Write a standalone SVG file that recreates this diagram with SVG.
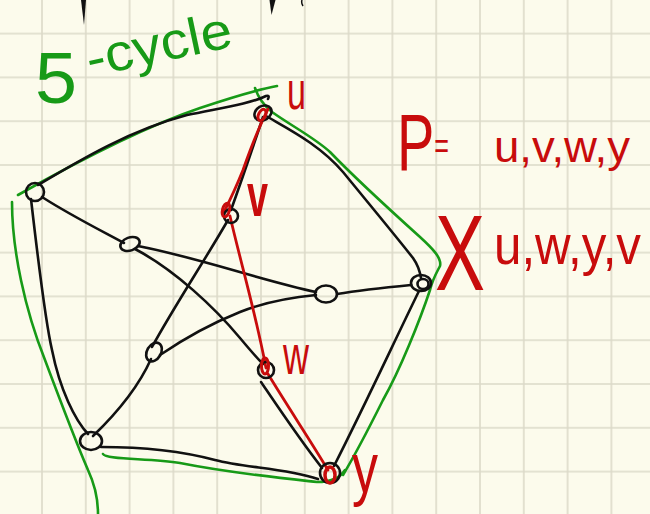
<svg xmlns="http://www.w3.org/2000/svg" width="650" height="514" viewBox="0 0 650 514">
<style>
.blk{fill:none;stroke:#111;stroke-width:2.6;stroke-linecap:round;stroke-linejoin:round}
.red{fill:none;stroke:#c80c0c;stroke-width:2.8;stroke-linecap:round;stroke-linejoin:round}
.grn{fill:none;stroke:#179a17;stroke-width:2.6;stroke-linecap:round;stroke-linejoin:round}
.nd{fill:none;stroke:#111;stroke-width:2.6}
.rt{fill:#c80c0c;font-family:"Liberation Sans",Arial,sans-serif}
.gt{fill:#179a17;font-family:"Liberation Sans",Arial,sans-serif}
</style>
<defs>
<pattern id="grid" x="20.1" y="11.7" width="43.8" height="43.8" patternUnits="userSpaceOnUse">
<path d="M21.9,0 V43.8 M0,21.9 H43.8" stroke="#dcdac9" stroke-width="1.6" fill="none"/>
</pattern>
</defs>
<rect width="650" height="514" fill="#fcfbec"/>
<rect width="650" height="514" fill="url(#grid)"/>

<g id="top-fragments" fill="#111">
<path d="M81,0 L84,25 L86,0 Z"/>
<path d="M269.5,0 L271.5,15 L275.5,0 Z"/>
<path d="M302,0 Q301,3 303,6" stroke="#111" stroke-width="1.5" fill="none"/>
</g>

<g id="cycle-outline">
<path class="grn" d="M18,195 C80,160 150,125 200,108 C230,98 255,90 277,86"/>
<path class="grn" d="M255,88 C258,97 263,105 272,112 C290,125 315,138 330,152 C355,178 390,210 420,237 C432,248 442,258 440,266 C437,272 433,278 430,290 C420,320 400,370 383,400 C368,430 355,455 343,475"/>
<path class="grn" d="M103,454 C106,460 150,458 180,463 C230,473 280,478 317,482 C330,482 340,478 345,470"/>
<path class="grn" d="M12,202 C12,250 25,310 45,360 C60,400 75,440 88,470 C95,485 98,500 98,514"/>
</g>

<g id="connectors">
<path class="blk" d="M38,185 C80,160 130,130 187,115 C220,108 250,104 266,96 Q270,95 268,99"/>
<path class="blk" d="M266,116 C290,130 320,145 343,172 C370,205 395,235 413,258 C418,265 420,272 421,278"/>
<path class="blk" d="M419,291 C395,340 365,405 334,466"/>
<path class="blk" d="M101,447 C150,447 185,452 215,460 C245,468 285,468 318,479"/>
<path class="blk" d="M31,199 C38,260 45,320 52,350 C60,390 75,420 88,434"/>
<path class="blk" d="M263,117 C252,150 240,185 231,210"/>
<path class="blk" d="M42,197 C70,215 100,230 124,243"/>
<path class="blk" d="M411,285 C380,288 355,291 337,294"/>
<path class="blk" d="M93,436 C118,412 138,388 151,359"/>
<path class="blk" d="M261,382 C280,410 300,440 322,468"/>
<path class="blk" d="M228,220 C205,260 175,305 152,347"/>
<path class="blk" d="M138,246 C200,258 260,280 316,292"/>
<path class="blk" d="M135,249 C175,270 215,308 240,338 C250,350 257,358 263,364"/>
<path class="blk" d="M160,355 C185,338 215,322 240,312 C265,302 295,297 316,295"/>
</g>

<g id="path-P">
<path class="red" d="M268,109 C260,125 250,150 243,170 C237,185 230,200 224,212"/>
<path class="red" d="M230,216 C240,260 255,310 266,368"/>
<path class="red" d="M268,374 C290,410 310,440 328,470"/>
</g>

<g id="node-u"><ellipse class="nd" cx="263" cy="113" rx="9" ry="7" transform="rotate(-30 263 113)"/><ellipse cx="262" cy="115" rx="3.5" ry="6" fill="none" stroke="#c80c0c" stroke-width="3" transform="rotate(25 262 115)"/></g>
<g id="node-a"><circle class="nd" cx="35" cy="192" r="9"/></g>
<g id="node-b"><ellipse class="nd" cx="130" cy="244" rx="10" ry="6.5" transform="rotate(-20 130 244)"/></g>
<g id="node-v"><circle class="nd" cx="231" cy="216" r="7"/><ellipse cx="226" cy="210" rx="3.5" ry="7" fill="none" stroke="#c80c0c" stroke-width="3" transform="rotate(15 226 210)"/></g>
<g id="node-c"><ellipse class="nd" cx="326" cy="294" rx="11" ry="8.5"/></g>
<g id="node-d"><ellipse class="nd" cx="421" cy="283" rx="10" ry="8"/><ellipse class="nd" cx="423" cy="284" rx="5.5" ry="5"/></g>
<g id="node-e"><ellipse class="nd" cx="154" cy="352" rx="7" ry="10" transform="rotate(30 154 352)"/></g>
<g id="node-w"><circle class="nd" cx="266" cy="370" r="8"/><ellipse cx="265" cy="366" rx="3.5" ry="8" fill="none" stroke="#c80c0c" stroke-width="3"/></g>
<g id="node-f"><ellipse class="nd" cx="91" cy="441" rx="11" ry="9"/></g>
<g id="node-y"><circle class="nd" cx="330" cy="473" r="10"/><ellipse cx="330" cy="475" rx="5" ry="8" fill="none" stroke="#c80c0c" stroke-width="3.5"/></g>

<g id="labels">
<text class="gt" x="35" y="103" font-size="72" textLength="42" lengthAdjust="spacingAndGlyphs">5</text>
<text class="gt" x="90" y="77" font-size="52" textLength="148" lengthAdjust="spacingAndGlyphs" transform="rotate(-12 90 77)">-cycle</text>
<text class="rt" x="287" y="109" font-size="54" textLength="19" lengthAdjust="spacingAndGlyphs">u</text>
<text class="rt" x="247" y="216" font-size="62" font-weight="bold" textLength="21" lengthAdjust="spacingAndGlyphs">v</text>
<text class="rt" x="283" y="374" font-size="56" textLength="26" lengthAdjust="spacingAndGlyphs">w</text>
<text class="rt" x="352" y="492" font-size="70" textLength="26" lengthAdjust="spacingAndGlyphs">y</text>
<text class="rt" x="397" y="170" font-size="80" textLength="52" lengthAdjust="spacingAndGlyphs">P<tspan font-size="36" dy="-12">=</tspan></text>
<text class="rt" x="494" y="162" font-size="44" textLength="136" lengthAdjust="spacingAndGlyphs">u,v,w,y</text>
<text class="rt" x="435" y="290" font-size="108" textLength="50" lengthAdjust="spacingAndGlyphs">X</text>
<text class="rt" x="494" y="264" font-size="56" textLength="147" lengthAdjust="spacingAndGlyphs">u,w,y,v</text>
</g>
</svg>
